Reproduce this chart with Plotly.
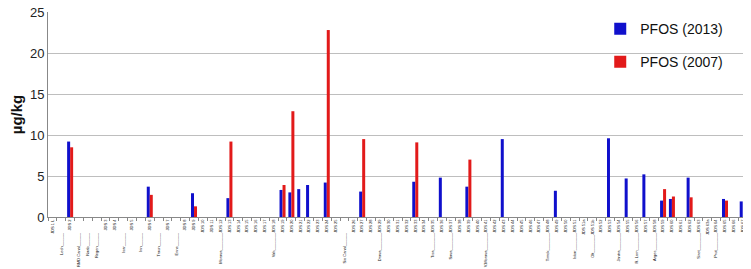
import plotly.graph_objects as go

# Sampling sites along the Danube (x categories, in order)
sites = (["JDS 1 L", "Lech", "JDS 2", "RMD Canal", "Naab", "Regen", "JDS 3", "JDS 4",
          "Isar", "JDS 5", "Inn", "JDS 6", "Traun", "JDS 7", "Enns", "JDS 8",
          "JDS 9", "JDS 10", "JDS 11", "JDS 12", "JDS 13", "JDS 14", "JDS 15", "JDS 16",
          "JDS 17", "JDS 18", "JDS 19", "JDS 20", "JDS 21", "JDS 22", "JDS 23", "JDS 24",
          "JDS 25", "Sio Canal", "JDS 26", "JDS 27", "JDS 28", "JDS 29", "JDS 30", "JDS 31",
          "JDS 32", "JDS 33", "JDS 34", "JDS 35", "JDS 36", "JDS 37", "JDS 38", "JDS 39",
          "JDS 40", "JDS 41", "JDS 42", "JDS 43", "JDS 44", "JDS 45", "JDS 46", "JDS 47",
          "JDS 48", "JDS 49", "JDS 50", "JDS 51", "JDS 51a", "JDS 51b", "JDS 52", "JDS 53",
          "JDS 54", "JDS 55", "JDS 56", "JDS 57", "JDS 58", "JDS 59", "JDS 60", "JDS 61",
          "JDS 62", "JDS 63", "JDS 63a", "JDS 64", "JDS 65", "JDS 66", "JDS 67", "JDS 68"])

# Tributary names that are attached to a Danube site label
tributary_at = ["JDS 12", "JDS 18", "JDS 29", "JDS 35", "JDS 37", "JDS 41", "JDS 48",
                "JDS 51", "JDS 51b", "JDS 54", "JDS 56", "JDS 58", "JDS 63", "JDS 64"]
tributary_names = ["Morava", "Vah", "Drava", "Tisa", "Sava", "V.Morava", "Timok",
                   "Iskar", "Olt", "Jantra", "R. Lom", "Arges", "Siret", "Prut"]

# PFOS 2013
sites_2013 = ["JDS 2", "JDS 6", "JDS 9", "JDS 13", "JDS 19", "JDS 20", "JDS 21", "JDS 22",
              "JDS 24", "JDS 27", "JDS 33", "JDS 36", "JDS 39", "JDS 43", "JDS 49", "JDS 53",
              "JDS 55", "JDS 57", "JDS 59", "JDS 60", "JDS 62", "JDS 65", "JDS 67"]
pfos_2013 = [9.2, 3.7, 2.9, 2.3, 3.3, 3.0, 3.4, 3.9,
             4.2, 3.1, 4.3, 4.8, 3.7, 9.5, 3.2, 9.6,
             4.7, 5.2, 2.0, 2.2, 4.8, 2.2, 1.9]

# PFOS 2007
sites_2007 = ["JDS 2", "JDS 6", "JDS 9", "JDS 13", "JDS 19", "JDS 20", "JDS 24", "JDS 27",
              "JDS 33", "JDS 39", "JDS 59", "JDS 60", "JDS 62", "JDS 65"]
pfos_2007 = [8.5, 2.7, 1.3, 9.2, 3.9, 12.9, 22.8, 9.5,
             9.1, 7.0, 3.4, 2.5, 2.4, 2.0]

y_ticks = [0, 5, 10, 15, 20, 25]

NB = "\u00a0"
trib_map = dict(zip(tributary_at, tributary_names))
ticktext = []
for s in sites:
    if not s.startswith("JDS"):
        ticktext.append(s + "_" * 6 + NB * 12)
    elif s in trib_map:
        ticktext.append(trib_map[s] + "_" * 8 + s)
    else:
        ticktext.append(s)

BLUE = "#1010CC"
RED = "#E21A1A"

fig = go.Figure()
fig.add_trace(go.Bar(x=sites_2013, y=pfos_2013, name="PFOS (2013)",
                     marker=dict(color=BLUE, line=dict(width=0)), legendgroup="a"))
fig.add_trace(go.Bar(x=sites_2007, y=pfos_2007, name="PFOS (2007)",
                     marker=dict(color=RED, line=dict(width=0)), legendgroup="b"))

fig.update_layout(
    width=751, height=269,
    margin=dict(l=40, r=3, t=4, b=60),
    paper_bgcolor="white", plot_bgcolor="white",
    barmode="group", bargap=0.32, bargroupgap=0,
    font=dict(family="Liberation Sans, Arial, sans-serif", color="#222"),
    legend=dict(x=0.78, y=0.995, xanchor="left", yanchor="top",
                bgcolor="rgba(0,0,0,0)", font=dict(size=14, color="#111"),
                tracegroupgap=12, itemwidth=30),
    xaxis=dict(type="category", categoryorder="array", categoryarray=sites,
               tickmode="array", tickvals=sites, ticktext=ticktext,
               tickangle=-90, tickfont=dict(size=4, color="#111"),
               ticks="outside", ticklen=3, tickcolor="#888", tickson="boundaries",
               showline=True, linecolor="#888", linewidth=1,
               showgrid=False, automargin=False, range=[-0.5, len(sites) - 0.5]),
    yaxis=dict(range=[0, 25], tickmode="array", tickvals=y_ticks,
               tickfont=dict(size=13, color="#222"), ticklabeloverflow="allow",
               showgrid=True, gridcolor="#BEBEBE", gridwidth=1,
               showline=True, linecolor="#888", linewidth=1,
               zeroline=False, ticks="", automargin=False,
               title=dict(text="<b>µg/kg</b>", font=dict(size=15, color="#111"),
                          standoff=16)),
)

fig.write_html("out.html")
